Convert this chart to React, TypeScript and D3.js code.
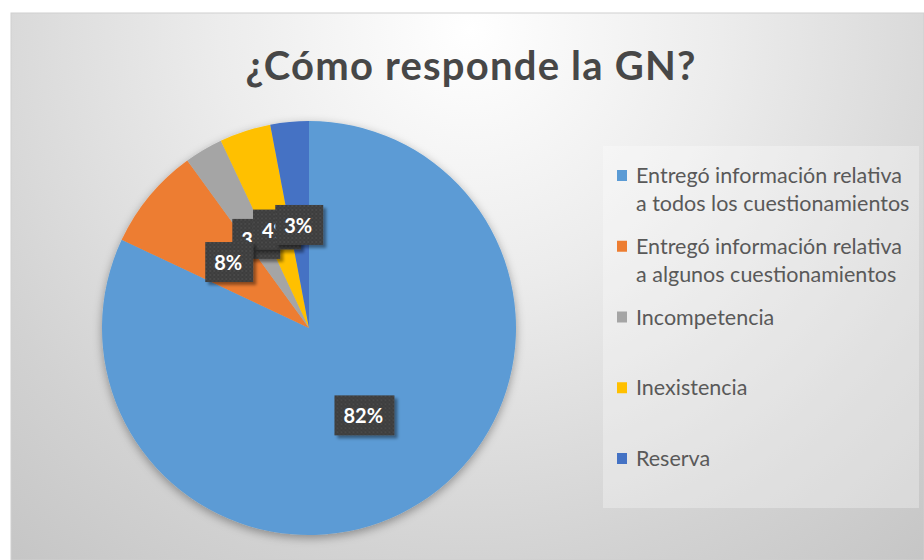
import React from 'react';
import * as d3 from 'd3';

const title = '¿Cómo responde la GN?';
const categories = [
  'Entregó información relativa a todos los cuestionamientos',
  'Entregó información relativa a algunos cuestionamientos',
  'Incompetencia',
  'Inexistencia',
  'Reserva',
];
const legendLines = [
  ['Entregó información relativa', 'a todos los cuestionamientos'],
  ['Entregó información relativa', 'a algunos cuestionamientos'],
  ['Incompetencia'],
  ['Inexistencia'],
  ['Reserva'],
];
const values = [82, 8, 3, 4, 3];
const colors = ['#5B9BD5', '#ED7D31', '#A5A5A5', '#FFC000', '#4472C4'];
const labelOrder = [0, 2, 3, 4, 1];

const W = 924;
const H = 560;

export default function App() {
  const cx = 309;
  const cy = 328;
  const R = 207;
  const pie = d3.pie<number>().sort(null).value((d) => d);
  const arcs = pie(values);
  const arc = d3.arc<d3.PieArcDatum<number>>().innerRadius(0).outerRadius(R);
  const legendY = d3.scaleLinear().domain([0, categories.length - 1]).range([175, 458]);

  return (
    <svg width={W} height={H} style={{ position: 'absolute', left: 0, top: 0 }}>
      <defs>
        <radialGradient id="bg" gradientUnits="userSpaceOnUse" cx={470} cy={30} r={720}>
          <stop offset="0" stopColor="#ffffff" />
          <stop offset="0.35" stopColor="#ececec" />
          <stop offset="0.75" stopColor="#d2d2d2" />
          <stop offset="1" stopColor="#c4c4c4" />
        </radialGradient>
        <filter id="pieShadow" x="-20%" y="-20%" width="140%" height="140%">
          <feDropShadow dx="0" dy="3" stdDeviation="5" floodColor="#000" floodOpacity="0.35" />
        </filter>
        <filter id="boxShadow" x="-30%" y="-30%" width="170%" height="170%">
          <feDropShadow dx="3" dy="3" stdDeviation="1.5" floodColor="#000" floodOpacity="0.4" />
        </filter>
        <pattern id="dots" width="4" height="4" patternUnits="userSpaceOnUse">
          <rect width="4" height="4" fill="#3d3d3d" />
          <circle cx="1" cy="1" r="0.7" fill="#5a5a5a" />
          <circle cx="3" cy="3" r="0.7" fill="#4e4e4e" />
        </pattern>
      </defs>
      <rect x={0} y={0} width={W} height={H} fill="#ffffff" />
      <rect x={11} y={13} width={W - 11} height={H - 13} fill="url(#bg)" stroke="#cfcfcf" strokeWidth={1} />

      <text
        x={471}
        y={65}
        textAnchor="middle"
        dominantBaseline="central"
        fontFamily="Lato, 'Open Sans', sans-serif"
        fontWeight={700}
        fontSize={40}
        letterSpacing={1.2}
        fill="#474747"
      >
        {title}
      </text>

      <g transform={`translate(${cx},${cy})`} filter="url(#pieShadow)">
        {arcs.map((a, i) => (
          <path key={i} d={arc(a) || ''} fill={colors[i]} />
        ))}
      </g>

      <g transform={`translate(${cx},${cy})`}>
        {labelOrder.map((i) => {
          const a = arcs[i];
          const [lx, ly] = arc.centroid(a);
          const txt = `${values[i]}%`;
          const bw = 24 + 12 * txt.length;
          const bh = 40;
          return (
            <g key={i} transform={`translate(${lx},${ly})`}>
              <rect x={-bw / 2} y={-bh / 2} width={bw} height={bh} fill="url(#dots)" filter="url(#boxShadow)" />
              <text
                x={-bw / 2 + 9}
                dominantBaseline="central"
                fontFamily="Lato, 'Open Sans', sans-serif"
                fontWeight={700}
                fontSize={20}
                fill="#ffffff"
              >
                {txt}
              </text>
            </g>
          );
        })}
      </g>

      <rect x={603} y={146} width={316} height={362} fill="#ffffff" fillOpacity={0.3} />
      {legendLines.map((lines, i) => {
        const y = legendY(i);
        return (
          <g key={i}>
            <rect x={617} y={y - 5} width={10} height={11} fill={colors[i]} />
            {lines.map((ln, j) => (
              <text
                key={j}
                x={636}
                y={y + j * 28}
                dominantBaseline="central"
                fontFamily="Lato, 'Open Sans', sans-serif"
                fontSize={21.5}
                fill="#595959"
              >
                {ln}
              </text>
            ))}
          </g>
        );
      })}
    </svg>
  );
}
